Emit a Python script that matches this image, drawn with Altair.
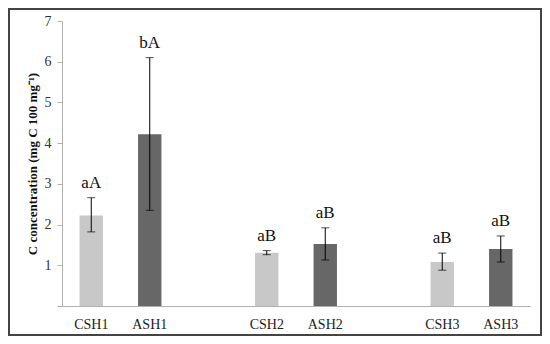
import altair as alt
import pandas as pd

categories = ["CSH1", "ASH1", "CSH2", "ASH2", "CSH3", "ASH3"]
means = [2.22, 4.22, 1.31, 1.52, 1.08, 1.40]
err_lo = [1.82, 2.35, 1.26, 1.13, 0.88, 1.08]
err_hi = [2.66, 6.10, 1.36, 1.92, 1.30, 1.72]
letters = ["aA", "bA", "aB", "aB", "aB", "aB"]
kinds = ["C", "A", "C", "A", "C", "A"]
x_order = ["CSH1", "ASH1", " ", "CSH2", "ASH2", "  ", "CSH3", "ASH3"]

df = pd.DataFrame({"cat": categories, "mean": means, "lo": err_lo, "hi": err_hi,
                   "lab": letters, "kind": kinds})

W, H = 468, 285
SERIF = "Liberation Serif"

xenc = alt.X("cat:N", sort=x_order,
             scale=alt.Scale(domain=x_order, paddingInner=0.6, paddingOuter=0.3),
             axis=alt.Axis(title=None, ticks=False, labelAngle=0, labelPadding=11,
                           labelFont=SERIF, labelFontSize=14, labelColor="#222",
                           domainColor="#b0b0b0", domainWidth=1))
yscale = alt.Scale(domain=[0, 7], nice=False)

base = alt.Chart(df)

bars = base.mark_bar().encode(
    x=xenc,
    y=alt.Y("mean:Q", scale=yscale,
            axis=alt.Axis(title="C concentration (mg C 100 mg⁻¹)", values=[0, 1, 2, 3, 4, 5, 6, 7],
                          labelExpr="datum.value == 0 ? '' : datum.label",
                          grid=False, tickSize=5, tickColor="#b0b0b0", domainColor="#b0b0b0",
                          labelFont=SERIF, labelFontSize=14, labelColor="#333", labelPadding=6,
                          titleFont=SERIF, titleFontSize=13, titleFontWeight="bold",
                          titleColor="#111", titleAlign="center", titleAngle=270,
                          titleX=-23, titleY=H / 2)),
    color=alt.Color("kind:N", scale=alt.Scale(domain=["C", "A"], range=["#c8c8c8", "#676767"]),
                    legend=None),
)

rules = base.mark_rule(color="black", strokeWidth=1).encode(
    x=alt.X("cat:N", sort=x_order), y=alt.Y("lo:Q", scale=yscale), y2="hi:Q")

caps_lo = base.mark_tick(color="black", thickness=1, size=8, orient="horizontal").encode(
    x=alt.X("cat:N", sort=x_order), y=alt.Y("lo:Q", scale=yscale))
caps_hi = base.mark_tick(color="black", thickness=1, size=8, orient="horizontal").encode(
    x=alt.X("cat:N", sort=x_order), y=alt.Y("hi:Q", scale=yscale))

labels = base.mark_text(font=SERIF, fontSize=17, color="#111", baseline="alphabetic", dy=-10).encode(
    x=alt.X("cat:N", sort=x_order), y=alt.Y("hi:Q", scale=yscale), text="lab:N")

frame = alt.Chart(pd.DataFrame({"v": [0]})).mark_rect(
    fill="transparent", stroke="#444", strokeWidth=2).encode(
    x=alt.value(-53), x2=alt.value(W + 11), y=alt.value(-12), y2=alt.value(H + 29))

chart = alt.layer(bars, rules, caps_lo, caps_hi, labels, frame).properties(
    width=W, height=H,
    autosize=alt.AutoSizeParams(type="none"),
    padding={"left": 54, "top": 13, "right": 12, "bottom": 30},
).configure_view(stroke=None)

chart.save("out.html", embed_options={"renderer": "svg", "actions": False})
